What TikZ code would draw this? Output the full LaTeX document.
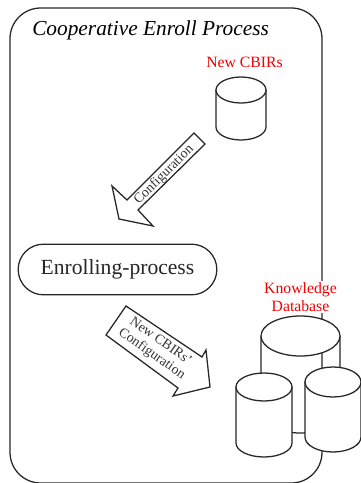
\documentclass[tikz,border=0pt]{standalone}
\usepackage{fontspec}
\setmainfont{Liberation Serif}
\usepackage{tikz}
\usetikzlibrary{positioning}
\tikzset{>=latex}
\tikzset{
  line/.style={line width=0.95pt, black!85},
  redlabel/.style={text=red!95!black, font=\fontsize{11.8}{13.5}\selectfont, align=center, inner sep=1pt},
  arrowlabel/.style={font=\fontsize{10.4}{11.5}\selectfont, align=center, inner sep=0pt, text=black!80}
}
% one can: name, centre x, half width, top y, half height of ellipse, body height
\newcommand{\dbcan}[6]{
  \filldraw[line, fill=white] (#2-#3,#4) -- (#2-#3,#4+#6) arc[start angle=180, end angle=0, x radius=#3, y radius=#5] -- (#2+#3,#4) -- cycle;
  \filldraw[line, fill=white] (#2,#4) ellipse [x radius=#3, y radius=#5];
  \coordinate (#1) at (#2,#4);
}
\begin{document}
\begin{tikzpicture}[x=0.75pt, y=-0.75pt]
  \useasboundingbox (0,0) rectangle (361,483);
  \clip (0,0) rectangle (361,483);
  \coordinate (boxNW) at (10,8);
  \coordinate (boxSE) at (322,483);
  \draw[line, rounded corners=23pt] (boxNW) rectangle (boxSE);

  \node[anchor=west, font=\fontsize{16}{18}\selectfont\itshape, inner sep=0pt] (title) at (32,30) {Cooperative Enroll Process};
  \node[redlabel] (newcbirs) at (244.5,62) {New CBIRs};
  \node[redlabel, fill=white] (knowledge) at (300.5,297) {Knowledge\\Database};

  \dbcan{newdb}{241}{25}{90}{13}{37}

  \coordinate (a1) at (194,133);
  \coordinate (a2) at (205,144);
  \coordinate (a3) at (138,210);
  \coordinate (a4) at (153,226);
  \coordinate (a5) at (119,219);
  \coordinate (a6) at (112,186);
  \coordinate (a7) at (127,200);
  \draw[line, line join=miter] (a1) -- (a2) -- (a3) -- (a4) -- (a5) -- (a6) -- (a7) -- cycle;
  \node[arrowlabel, rotate=45] (config) at (164,175) {Configuration};

  \node[draw, line, rounded corners=19pt, minimum width=149pt, minimum height=38pt,
        font=\fontsize{16.2}{19}\selectfont, inner sep=0pt] (enroll) at (117.5,269.5) {Enrolling-process};

  \coordinate (b1) at (126,306);
  \coordinate (b2) at (106,335);
  \coordinate (b3) at (178,388);
  \coordinate (b4) at (173,396);
  \coordinate (b5) at (210,387);
  \coordinate (b6) at (206,350);
  \coordinate (b7) at (202,357);
  \draw[line, line join=miter] (b1) -- (b2) -- (b3) -- (b4) -- (b5) -- (b6) -- (b7) -- cycle;
  \node[arrowlabel, rotate=-35] (newconfig) at (156,348) {New CBIRs'\\Configuration};

  \draw[line] (261,336) -- (261,413) arc[start angle=180, end angle=0, x radius=39.5, y radius=20] -- (340,336);
  \filldraw[line, fill=white] (300.5,336) ellipse [x radius=39.5, y radius=20];
  \dbcan{leftdb}{264}{28}{387}{14}{56}
  \dbcan{rightdb}{333}{28}{382}{15}{55}
\end{tikzpicture}
\end{document}
